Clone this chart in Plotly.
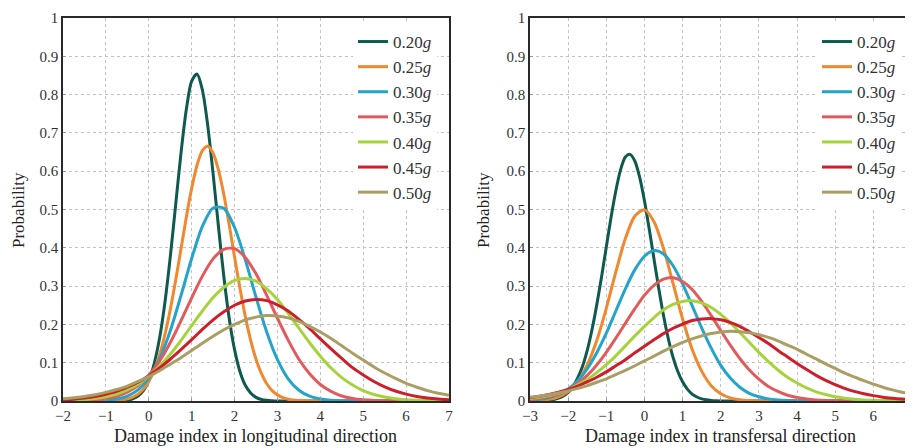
import plotly.graph_objects as go

# ---------------- data ----------------
labels = ["0.20<i>g</i>", "0.25<i>g</i>", "0.30<i>g</i>", "0.35<i>g</i>",
          "0.40<i>g</i>", "0.45<i>g</i>", "0.50<i>g</i>"]
colors = ["#0f5a4e", "#f0882e", "#24a3cb", "#e35a5c", "#a6d33b", "#cd1f2b", "#a99e63"]

x_long = [i / 4 for i in range(-8, 29)]            # -2 ... 7, step 0.25
x_trans = [i / 4 for i in range(-12, 29)]          # -3 ... 7, step 0.25
x_long_020 = [-2] + [i / 8 for i in range(-8, 25)] + [7]   # finer sampling for narrow curve
x_long_025 = [-2] + [i / 8 for i in range(-8, 33)] + [7]
x_trans_020 = [i / 8 for i in range(-24, 17)] + [7]

long_020 = [0,
            0, 0, 0.0003, 0.0009, 0.002, 0.0058, 0.013, 0.027,
            0.053, 0.097, 0.163, 0.256, 0.375, 0.510, 0.646, 0.761,
            0.835, 0.854, 0.812, 0.719, 0.593, 0.455, 0.325, 0.216,
            0.134, 0.077, 0.041, 0.021, 0.0095, 0.0041, 0.0017, 0.0006,
            0,
            0]
long_025 = [0,
            0.0003, 0.0006, 0.0013, 0.0028, 0.0055, 0.0102, 0.018, 0.031,
            0.051, 0.080, 0.120, 0.173, 0.238, 0.314, 0.396, 0.480,
            0.555, 0.616, 0.654, 0.665, 0.647, 0.603, 0.539, 0.460,
            0.376, 0.295, 0.221, 0.159, 0.109, 0.072, 0.045, 0.027,
            0.016, 0.0088, 0.0047, 0.0024, 0.0011, 0.0005, 0.0002, 0,
            0,
            0]
long_030 = [0, 0, 0.0002, 0.0006, 0.0019, 0.0052, 0.013, 0.029, 0.060, 0.110, 0.183, 0.275, 0.372, 0.456,
            0.504, 0.503, 0.453, 0.369, 0.271, 0.180, 0.108, 0.058, 0.028, 0.0125, 0.005, 0.0018, 0.0006,
            0.0002, 0, 0, 0, 0, 0, 0, 0, 0, 0]
long_035 = [0.0002, 0.0005, 0.0013, 0.0029, 0.0061, 0.0123, 0.023, 0.040, 0.067, 0.104, 0.152, 0.209,
            0.269, 0.326, 0.371, 0.396, 0.398, 0.375, 0.332, 0.276, 0.216, 0.159, 0.109, 0.071, 0.043,
            0.025, 0.013, 0.0067, 0.0032, 0.0014, 0.0006, 0.0002, 0, 0, 0, 0, 0]
long_040 = [0.001, 0.002, 0.0037, 0.0065, 0.011, 0.018, 0.029, 0.044, 0.065, 0.091, 0.122, 0.158, 0.197,
            0.235, 0.270, 0.297, 0.315, 0.320, 0.313, 0.293, 0.265, 0.229, 0.190, 0.152, 0.117, 0.086,
            0.061, 0.042, 0.027, 0.017, 0.0103, 0.006, 0.0033, 0.0018, 0.0009, 0.0005, 0.0002]
long_045 = [0.003, 0.0048, 0.0076, 0.0117, 0.0175, 0.025, 0.036, 0.049, 0.066, 0.086, 0.109, 0.134, 0.160,
            0.187, 0.212, 0.233, 0.250, 0.261, 0.265, 0.262, 0.251, 0.235, 0.213, 0.189, 0.162, 0.136,
            0.111, 0.087, 0.068, 0.051, 0.037, 0.026, 0.018, 0.012, 0.0079, 0.005, 0.0031]
long_050 = [0.0058, 0.0084, 0.012, 0.0165, 0.0225, 0.030, 0.039, 0.051, 0.064, 0.079, 0.096, 0.113, 0.132,
            0.151, 0.169, 0.186, 0.200, 0.212, 0.219, 0.223, 0.222, 0.217, 0.208, 0.195, 0.180, 0.163,
            0.144, 0.125, 0.107, 0.089, 0.073, 0.059, 0.046, 0.036, 0.027, 0.020, 0.015]

trans_020 = [0, 0.0002, 0.0005, 0.001, 0.002, 0.0039, 0.0073, 0.013,
             0.0226, 0.037, 0.060, 0.090, 0.132, 0.186, 0.251, 0.324,
             0.402, 0.480, 0.549, 0.604, 0.637, 0.644, 0.626, 0.584,
             0.523, 0.449, 0.371, 0.294, 0.223, 0.163, 0.114, 0.077,
             0.050, 0.031, 0.018, 0.0104, 0.0057, 0.003, 0.0015, 0.0007,
             0.0003,
             0]
trans_025 = [0.0005, 0.0016, 0.0043, 0.011, 0.0245, 0.050, 0.094, 0.158, 0.242, 0.337, 0.424, 0.483,
             0.499, 0.468, 0.398, 0.307, 0.214, 0.135, 0.078, 0.040, 0.019, 0.0082, 0.0032, 0.0011, 0.0003,
             0, 0, 0, 0, 0, 0, 0, 0, 0, 0, 0, 0, 0, 0, 0, 0]
trans_030 = [0.0021, 0.0046, 0.0092, 0.0176, 0.0315, 0.053, 0.084, 0.126, 0.177, 0.235, 0.293, 0.343,
             0.378, 0.393, 0.384, 0.353, 0.306, 0.249, 0.191, 0.138, 0.093, 0.060, 0.036, 0.020, 0.011,
             0.0055, 0.0026, 0.0011, 0.0005, 0.0002, 0, 0, 0, 0, 0, 0, 0, 0, 0, 0, 0]
trans_035 = [0.0038, 0.0068, 0.0117, 0.019, 0.030, 0.046, 0.067, 0.094, 0.127, 0.164, 0.203, 0.241,
             0.276, 0.302, 0.318, 0.322, 0.312, 0.291, 0.260, 0.223, 0.184, 0.146, 0.111, 0.081, 0.057,
             0.038, 0.025, 0.015, 0.0091, 0.0052, 0.0029, 0.0015, 0.0008, 0.0004, 0.0002, 0, 0, 0, 0, 0, 0]
trans_040 = [0.0062, 0.0095, 0.014, 0.021, 0.030, 0.042, 0.056, 0.074, 0.095, 0.118, 0.144, 0.170, 0.195,
             0.218, 0.238, 0.252, 0.260, 0.262, 0.256, 0.244, 0.226, 0.204, 0.179, 0.153, 0.127, 0.103,
             0.081, 0.062, 0.047, 0.034, 0.024, 0.017, 0.011, 0.0073, 0.0046, 0.0029, 0.0017, 0.001,
             0.0006, 0.0003, 0.0002]
trans_045 = [0.009, 0.0126, 0.017, 0.023, 0.030, 0.039, 0.050, 0.062, 0.076, 0.092, 0.108, 0.126, 0.143,
             0.160, 0.176, 0.190, 0.201, 0.210, 0.214, 0.215, 0.212, 0.205, 0.195, 0.181, 0.166, 0.150,
             0.132, 0.115, 0.098, 0.082, 0.067, 0.054, 0.043, 0.033, 0.025, 0.019, 0.014, 0.010, 0.0072,
             0.005, 0.0035]
trans_050 = [0.0097, 0.0127, 0.0165, 0.021, 0.0265, 0.033, 0.040, 0.049, 0.058, 0.069, 0.080, 0.092, 0.105,
             0.117, 0.130, 0.142, 0.153, 0.162, 0.170, 0.176, 0.180, 0.182, 0.181, 0.178, 0.173, 0.166,
             0.157, 0.146, 0.135, 0.122, 0.110, 0.097, 0.085, 0.073, 0.063, 0.053, 0.044, 0.036, 0.029,
             0.023, 0.018]

long_x = [x_long_020, x_long_025, x_long, x_long, x_long, x_long, x_long]
long_series = [long_020, long_025, long_030, long_035, long_040, long_045, long_050]
trans_x = [x_trans_020, x_trans, x_trans, x_trans, x_trans, x_trans, x_trans]
trans_series = [trans_020, trans_025, trans_030, trans_035, trans_040, trans_045, trans_050]

# ---------------- figure ----------------
# the page places the plot 8 px from the top-left corner, so the figure is 8 px smaller
W, H = 905, 440
FONT = "Liberation Serif"
fig = go.Figure()

for i, (lab, col, xs, ys) in enumerate(zip(labels, colors, long_x, long_series)):
    fig.add_trace(go.Scatter(x=xs, y=ys, mode="lines", name=lab,
                             line=dict(color=col, width=3, shape="spline", smoothing=0.8),
                             xaxis="x", yaxis="y", legend="legend", legendgroup="l%d" % i))
for i, (lab, col, xs, ys) in enumerate(zip(labels, colors, trans_x, trans_series)):
    fig.add_trace(go.Scatter(x=xs, y=ys, mode="lines", name=lab,
                             line=dict(color=col, width=3, shape="spline", smoothing=0.8),
                             xaxis="x2", yaxis="y2", legend="legend2", legendgroup="t%d" % i))

ydom = [1 - 393 / H, 1 - 10 / H]
axis_common = dict(showline=True, linecolor="#2a2a2a", linewidth=1.6, mirror=True,
                   showgrid=True, gridcolor="#c2c2c2", griddash="dot", gridwidth=1,
                   zeroline=False, ticks="inside", ticklen=3, tickcolor="#999",
                   automargin=False,
                   tickfont=dict(family=FONT, size=15, color="#333"))

legend_common = dict(xanchor="left", yanchor="top", bgcolor="white", borderwidth=0,
                     font=dict(family=FONT, size=17, color="#333"),
                     tracegroupgap=0, itemwidth=30, traceorder="grouped")

fig.update_layout(
    width=W, height=H, margin=dict(l=0, r=0, t=0, b=0, pad=0, autoexpand=False),
    paper_bgcolor="white", plot_bgcolor="white",
    font=dict(family=FONT, color="#222"),
    xaxis=dict(domain=[55 / W, 441 / W], range=[-2, 7], dtick=1, tick0=0, anchor="y", **axis_common),
    yaxis=dict(domain=ydom, range=[0, 1], dtick=0.1, tick0=0, anchor="x", **axis_common),
    xaxis2=dict(domain=[522 / W, 903.5 / W], range=[-3, 7], dtick=1, tick0=0, anchor="y2", **axis_common),
    yaxis2=dict(domain=ydom, range=[0, 1], dtick=0.1, tick0=0, anchor="x2", **axis_common),
    legend=dict(x=345 / W, y=1 - 16 / H, **legend_common),
    legend2=dict(x=809 / W, y=1 - 16 / H, **legend_common),
    showlegend=True,
)

fig.add_annotation(text="Damage index in longitudinal direction", xref="paper", yref="paper",
                   x=248 / W, y=1 - 428 / H, xanchor="center", yanchor="middle", showarrow=False,
                   font=dict(family=FONT, size=18, color="#222"))
fig.add_annotation(text="Damage index in transfersal direction", xref="paper", yref="paper",
                   x=712 / W, y=1 - 428 / H, xanchor="center", yanchor="middle", showarrow=False,
                   font=dict(family=FONT, size=18, color="#222"))
fig.add_annotation(text="Probability", xref="paper", yref="paper",
                   x=10 / W, y=1 - 202 / H, xanchor="center", yanchor="middle", showarrow=False,
                   textangle=-90, font=dict(family=FONT, size=17, color="#222"))
fig.add_annotation(text="Probability", xref="paper", yref="paper",
                   x=475 / W, y=1 - 202 / H, xanchor="center", yanchor="middle", showarrow=False,
                   textangle=-90, font=dict(family=FONT, size=17, color="#222"))

fig.write_html("out.html")
